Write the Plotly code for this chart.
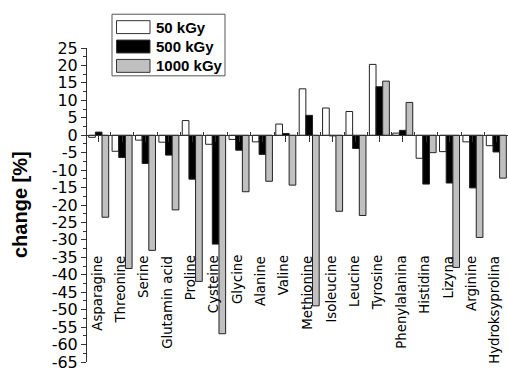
import plotly.graph_objects as go

categories = ["Asparagine", "Threonine", "Serine", "Glutamin acid", "Proline",
              "Cysteine", "Glycine", "Alanine", "Valine", "Methionine",
              "Isoleucine", "Leucine", "Tyrosine", "Phenylalanina", "Histidina",
              "Lizyna", "Arginine", "Hydroksyprolina"]
series_names = ["50 kGy", "500 kGy", "1000 kGy"]
vals_50 = [-0.6, -4.6, -1.4, -2.0, 4.2, -2.6, -1.2, -1.9, 3.2, 13.3,
           7.8, 6.8, 20.3, 0.6, -6.6, -4.7, -1.9, -3.0]
vals_500 = [0.9, -6.4, -8.1, -5.7, -12.6, -31.2, -4.3, -5.5, 0.5, 5.7,
            -0.2, -3.8, 13.9, 1.4, -14.0, -13.7, -15.1, -4.8]
vals_1000 = [-23.5, -38.2, -33.0, -21.4, -41.9, -56.9, -16.2, -13.2, -14.3, -48.9,
             -21.8, -23.0, 15.5, 9.4, -5.0, -37.9, -29.3, -12.3]
y_ticks = list(range(-65, 26, 5))
y_tick_labels = [str(v) for v in y_ticks]
label_y = -33.9

colors = ["#ffffff", "#000000", "#c0c0c0"]
series = [vals_50, vals_500, vals_1000]
xs = list(range(len(categories)))

W, H = 508, 372
ML, MR, MT, MB = 87, 0, 48, 8
PW, PH = W - ML - MR, H - MT - MB


def px(x):
    return (x - ML) / PW


def py(y):
    return (H - MB - y) / PH


fig = go.Figure()
for name, vals, col in zip(series_names, series, colors):
    fig.add_trace(go.Bar(x=xs, y=vals, name=name, marker=dict(color=col, line=dict(color="#222222", width=1)),
                         showlegend=False))

for i, c in enumerate(categories):
    fig.add_annotation(x=i, y=label_y, xref="x", yref="y", text=c, textangle=-90,
                       showarrow=False, xanchor="center", yanchor="top", xshift=-2,
                       font=dict(family="DejaVu Sans", size=13.3, color="black"))

# legend (manual)
fig.add_shape(type="rect", xref="paper", yref="paper", x0=px(112), x1=px(225), y0=py(76), y1=py(14),
              line=dict(color="#555555", width=1), fillcolor="white")
row_y = [27, 46.5, 66]
for name, col, ry in zip(series_names, colors, row_y):
    fig.add_shape(type="rect", xref="paper", yref="paper", x0=px(116.5), x1=px(150),
                  y0=py(ry + 6.5), y1=py(ry - 6.5), line=dict(color="#333333", width=1), fillcolor=col)
    fig.add_annotation(x=px(154), y=py(ry), xref="paper", yref="paper", text=name, showarrow=False,
                       xanchor="left", yanchor="middle",
                       font=dict(family="Liberation Sans", size=15, color="black", weight="bold"))

fig.add_annotation(x=px(20), y=0.5, xref="paper", yref="paper", text="change [%]", textangle=-90,
                   showarrow=False, xanchor="center", yanchor="middle",
                   font=dict(family="Liberation Sans", size=20, color="black", weight="bold"))

fig.update_layout(
    width=W, height=H, margin=dict(l=ML, r=MR, t=MT, b=MB),
    paper_bgcolor="white", plot_bgcolor="white",
    barmode="group", bargap=0.145, bargroupgap=0,
    showlegend=False,
    xaxis=dict(range=[-0.5, len(categories) - 0.5], anchor="free", position=65 / 90,
               showline=True, linecolor="#333333", linewidth=1, showgrid=False, zeroline=False,
               tickmode="array", tickvals=xs, ticks="outside", ticklen=6, tickcolor="#333333",
               showticklabels=False,
               minor=dict(tickmode="array", tickvals=[i + 0.5 for i in xs[:-1]], ticks="inside",
                          ticklen=3, tickcolor="#333333")),
    yaxis=dict(range=[-65, 25], showline=True, linecolor="#333333", linewidth=1, showgrid=False,
               zeroline=False, tickmode="array", tickvals=y_ticks, ticktext=y_tick_labels,
               ticks="outside", ticklen=5, tickcolor="#333333", ticklabeloverflow="allow",
               tickfont=dict(family="DejaVu Sans", size=16, color="black"),
               minor=dict(dtick=2.5, ticks="outside", ticklen=3, tickcolor="#333333")),
)

fig.write_html("out.html", config={"displayModeBar": False},
               post_script="document.body.style.margin='0';document.body.style.overflow='hidden';")
